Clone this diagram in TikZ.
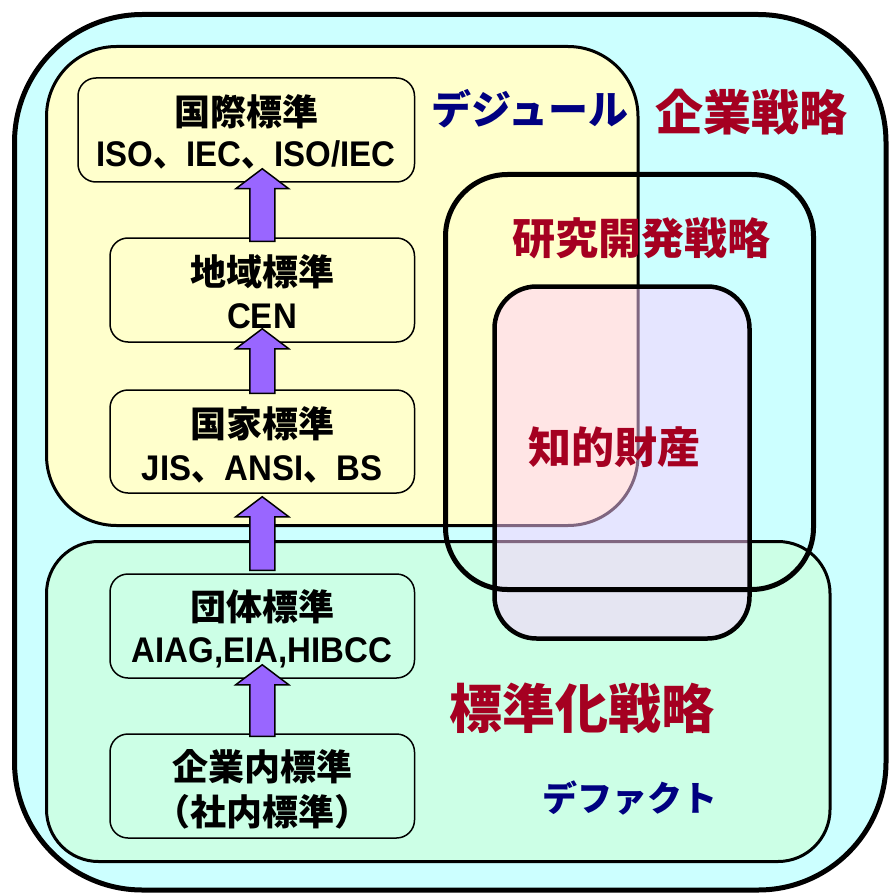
\documentclass[tikz,border=0pt]{standalone}
\usepackage{fontspec}
\setmainfont{Noto Sans CJK JP}
\newfontfamily\latinfont{Liberation Sans}
\usetikzlibrary{calc}
\definecolor{outerfill}{HTML}{CCFFFF}
\definecolor{yfill}{HTML}{FFFFCC}
\definecolor{gfill}{HTML}{CCFFE6}
\definecolor{ipfill}{HTML}{FFCCFF}
\definecolor{redtxt}{HTML}{A50021}
\definecolor{navytxt}{HTML}{000080}
\definecolor{arrowfill}{HTML}{9966FF}
\tikzset{
  sbox/.style={draw=black, line width=1.5pt, rounded corners=18pt, inner sep=0pt, minimum height=104pt},
  boxtxt/.style={inner sep=0pt, font=\bfseries\fontsize{36}{40}\selectfont},
  lattxt/.style={inner sep=0pt, font=\bfseries\fontsize{33}{36}\selectfont},
  arrowsty/.style={draw=black, line width=1.5pt, fill=arrowfill, line join=miter},
  bigred/.style={inner sep=0pt, text=redtxt, font=\bfseries\fontsize{#1}{#1}\selectfont},
  bignavy/.style={inner sep=0pt, text=navytxt, font=\bfseries\fontsize{#1}{#1}\selectfont},
}
\newcommand\lt[1]{{\latinfont #1}}
\newcommand\tall[1]{\scalebox{1}[1.08]{#1}}
\newcommand\blockarrow[4]{%
  \draw[arrowsty] let \p1=(#1.north), \p2=(#2.south) in
   (\x1-12.5pt,{\y1-(#4)}) -- (\x1-12.5pt,{\y2+(#3)-20pt}) -- (\x1-26.5pt,{\y2+(#3)-20pt})
   -- (\x1,{\y2+(#3)}) -- (\x1+26.5pt,{\y2+(#3)-20pt}) -- (\x1+12.5pt,{\y2+(#3)-20pt})
   -- (\x1+12.5pt,{\y1-(#4)}) -- cycle;}
\begin{document}
\begin{tikzpicture}[x=1pt,y=-1pt]
\useasboundingbox (0,0) rectangle (888,893);
% outer region
\draw[line width=5pt, fill=outerfill, rounded corners=128pt] (14.5,14.5) rectangle (886,890);
% de jure region
\draw[line width=3pt, fill=yfill, rounded corners=70pt] (46.5,46.5) rectangle (638,525.5);
% standardisation region
\draw[line width=3pt, fill=gfill, rounded corners=52pt] (46.5,541.5) rectangle (830,861.5);
% small boxes
\node[sbox, minimum width=336.5pt] (b1) at (246.25,130) {};
\node[sbox, minimum width=304.5pt] (b2) at (262.25,290) {};
\node[sbox, minimum width=304.5pt, minimum height=103pt] (b3) at (262.25,441.5) {};
\node[sbox, minimum width=304.5pt] (b4) at (262.25,626) {};
\node[sbox, minimum width=304.5pt] (b5) at (262.25,786) {};
% intellectual property region (translucent)
\draw[line width=4.5pt, fill=ipfill, fill opacity=0.5, rounded corners=42pt] (494.5,286.5) rectangle (749.5,638.5);
% R&D region
\draw[line width=5pt, rounded corners=62pt] (445.5,174.5) rectangle (813.5,589.5);
% arrows
\blockarrow{b2}{b1}{14pt}{4pt}
\blockarrow{b3}{b2}{14pt}{4pt}
\blockarrow{b4}{b3}{-3pt}{-3pt}
\blockarrow{b5}{b4}{14pt}{3pt}
% box texts
\node[boxtxt] (t1a) at (246,112) {国際標準};
\node[lattxt] (t1b) at (246,155) {\tall{\lt{ISO}、\lt{IEC}、\lt{ISO/IEC}}};
\node[boxtxt] (t2a) at (262,272) {地域標準};
\node[lattxt] (t2b) at (262,316) {\tall{\lt{CEN}}};
\node[boxtxt] (t3a) at (262,424) {国家標準};
\node[lattxt] (t3b) at (262,469) {\tall{\lt{JIS}、\lt{ANSI}、\lt{BS}}};
\node[boxtxt] (t4a) at (262,607) {団体標準};
\node[lattxt] (t4b) at (262,653) {\tall{\lt{AIAG,EIA,HIBCC}}};
\node[boxtxt] (t5a) at (262,767) {企業内標準};
\node[boxtxt] (t5b) at (262,812) {（社内標準）};
% region labels
\node[bignavy=40] (dejure) at (530,109) {デジュール};
\node[bigred=48] (corp) at (751,112) {企業戦略};
\node[bigred=43] (rnd) at (641,238) {研究開発戦略};
\node[bigred=43] (ip) at (614,447) {知的財産};
\node[bigred=53] (std) at (582,708) {標準化戦略};
\node[bignavy=35] (defacto) at (630,798) {デファクト};
\end{tikzpicture}
\end{document}
